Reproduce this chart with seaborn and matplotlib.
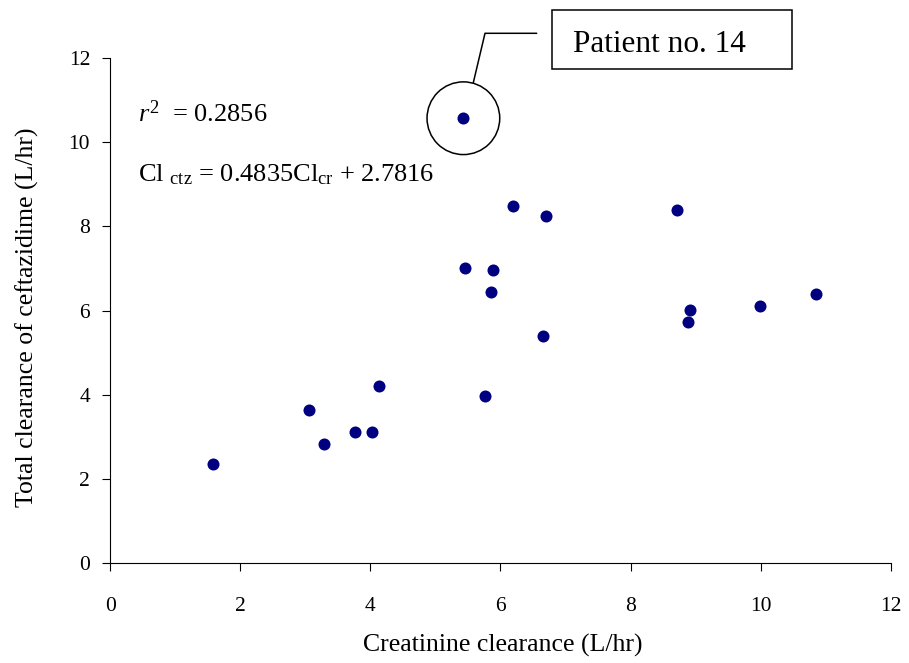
import matplotlib
matplotlib.use("Agg")
import matplotlib.pyplot as plt
from matplotlib.lines import Line2D
from matplotlib.patches import Rectangle
import seaborn as sns
import pandas as pd

# Data
creatinine_cl = [1.58, 3.06, 3.28, 3.77, 4.02, 4.14, 5.43, 5.46, 5.89, 5.86, 5.77,
                 6.20, 6.70, 6.65, 8.72, 8.91, 8.88, 9.99, 10.85]
ceftazidime_cl = [2.36, 3.64, 2.83, 3.12, 3.12, 4.21, 10.57, 7.01, 6.97, 6.44, 3.97,
                  8.49, 8.25, 5.40, 8.39, 6.02, 5.72, 6.11, 6.40]
highlight_index = 6  # Patient no. 14
x_ticks = [0, 2, 4, 6, 8, 10, 12]
y_ticks = [0, 2, 4, 6, 8, 10, 12]

df = pd.DataFrame({"x": creatinine_cl, "y": ceftazidime_cl})

sns.set_style("ticks")
plt.rcParams["font.family"] = ["Liberation Serif", "DejaVu Serif"]
plt.rcParams["mathtext.fontset"] = "custom"
plt.rcParams["mathtext.rm"] = "Liberation Serif"
plt.rcParams["mathtext.it"] = "Liberation Serif:italic"
plt.rcParams["text.color"] = "black"
plt.rcParams["axes.labelcolor"] = "black"

fig = plt.figure(figsize=(9.09, 6.63), dpi=100)
ax = fig.add_axes([0.1213, 0.1504, 0.8585, 0.7621])

sns.scatterplot(data=df, x="x", y="y", ax=ax, color="#000080", s=75,
                linewidth=0, zorder=3)

# hollow ring around patient no. 14
ax.scatter([creatinine_cl[highlight_index]], [ceftazidime_cl[highlight_index]],
           s=2740, facecolors="none", edgecolors="black", linewidths=1.1, zorder=4,
           clip_on=False)

ax.set_xlim(0, 12)
ax.set_ylim(0, 12)
ax.set_xticks(x_ticks)
ax.set_yticks(y_ticks)
ax.tick_params(axis="both", direction="out", length=6, width=0.8, colors="black",
               labelsize=15.5, labelcolor="black")
ax.tick_params(axis="x", pad=18.5)
ax.tick_params(axis="y", pad=8.5)
for side in ["top", "right"]:
    ax.spines[side].set_visible(False)
for side in ["left", "bottom"]:
    ax.spines[side].set_linewidth(0.8)
    ax.spines[side].set_color("black")

ax.set_xlabel("Creatinine clearance (L/hr)", fontsize=18.5, color="black")
ax.set_ylabel("Total clearance of ceftazidime (L/hr)", fontsize=18.5, color="black")
ax.xaxis.set_label_coords(0.5026, -0.140)
ax.yaxis.set_label_coords(-0.091, 0.486)

# regression annotation
ax.text(0.43, 10.49, r"$\mathit{r}^{2}$  = 0.2856", fontsize=19, va="baseline",
        ha="left", color="black")
ax.text(0.43, 9.08, r"Cl $_{\mathrm{ctz}}$ = 0.4835Cl$_{\mathrm{cr}}$ + 2.7816",
        fontsize=19, va="baseline", ha="left", color="black")

# callout box and leader line
W, H = 909.0, 663.0
fig.add_artist(Line2D([473.3 / W, 485 / W, 536.7 / W],
                      [1 - 82.7 / H, 1 - 33.3 / H, 1 - 33.3 / H],
                      transform=fig.transFigure, color="black", linewidth=1.1))
fig.add_artist(Rectangle((551.7 / W, 1 - 69 / H), 240.6 / W, 59 / H,
                         transform=fig.transFigure, facecolor="white",
                         edgecolor="black", linewidth=1.1))
fig.text(572.7 / W, 1 - 41.5 / H, "Patient no. 14", fontsize=22.5,
         va="center_baseline", ha="left", color="black")

fig.savefig("out.png", dpi=100)
